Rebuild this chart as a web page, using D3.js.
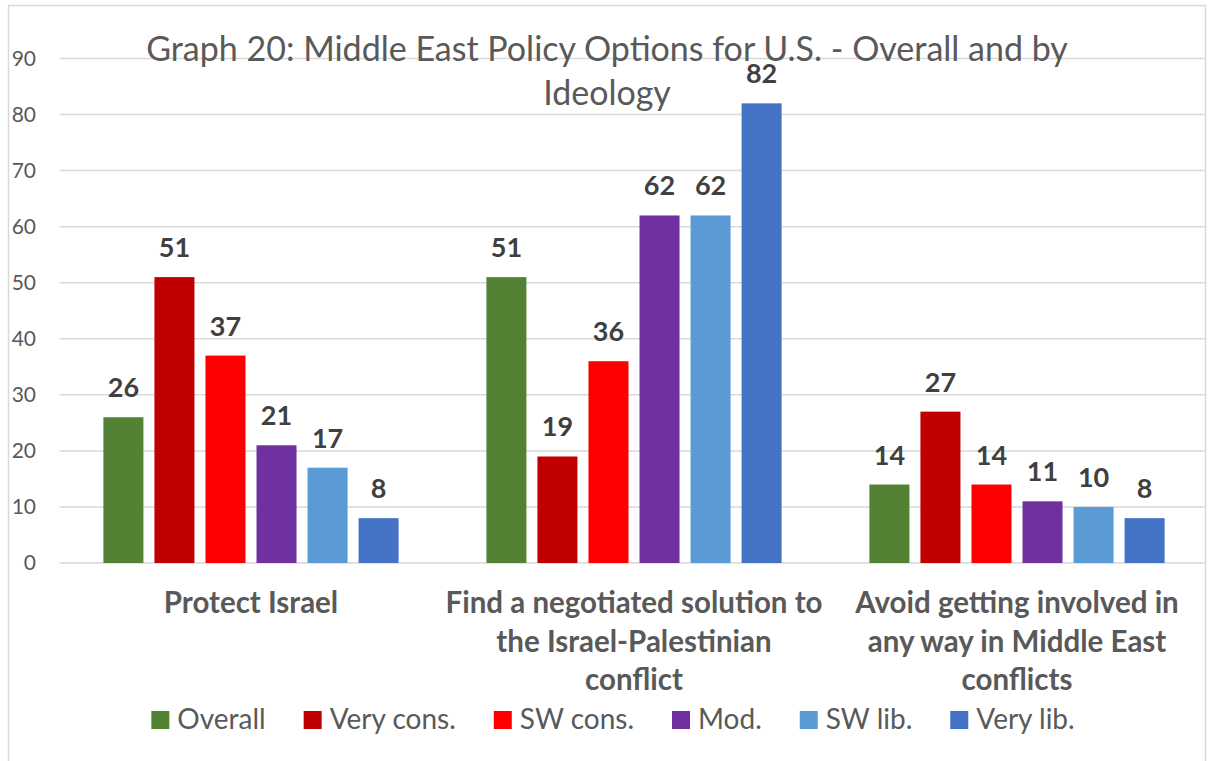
<!DOCTYPE html>
<html>
<head>
<meta charset="utf-8">
<script src="https://cdn.jsdelivr.net/npm/d3@7"></script>
<style>
  body { margin: 0; background: #fff; }
  svg { display: block; font-family: Lato, "Open Sans", sans-serif; }
</style>
</head>
<body>
<div id="chart"></div>
<script>
/* data */
const categories = [
    ["Protect Israel"],
    ["Find a negotiated solution to", "the Israel-Palestinian", "conflict"],
    ["Avoid getting involved in", "any way in Middle East", "conflicts"]
];
const seriesNames = ["Overall", "Very cons.", "SW cons.", "Mod.", "SW lib.", "Very lib."];
const seriesColors = ["#548235", "#c00000", "#ff0000", "#7030a0", "#5b9bd5", "#4472c4"];
const overall   = [26, 51, 14];
const veryCons  = [51, 19, 27];
const swCons    = [37, 36, 14];
const moderate  = [21, 62, 11];
const swLib     = [17, 62, 10];
const veryLib   = [8, 82, 8];
const yTicks = [0, 10, 20, 30, 40, 50, 60, 70, 80, 90];
const titleLines = ["Graph 20: Middle East Policy Options for U.S. - Overall and by", "Ideology"];

const seriesValues = [overall, veryCons, swCons, moderate, swLib, veryLib];

/* visual settings */
const width = 1210, height = 761;
const plot = { left: 59.5, right: 1208.5, top: 58.5, bottom: 563 };
const textGray = "#595959", labelGray = "#404040", gridGray = "#d9d9d9";

const svg = d3.select("#chart").append("svg")
    .attr("width", width)
    .attr("height", height);

/* chart area border (bottom is cut off in the reference) */
svg.append("rect")
    .attr("x", 8.5).attr("y", 5.5)
    .attr("width", 1197).attr("height", 800)
    .attr("fill", "none")
    .attr("stroke", gridGray)
    .attr("stroke-width", 1.5);

/* scales */
const x0 = d3.scaleBand()
    .domain(d3.range(categories.length))
    .range([plot.left, plot.right])
    .padding(0);
const x1 = d3.scaleBand()
    .domain(d3.range(seriesNames.length))
    .range([0, x0.bandwidth()])
    .paddingInner(0.216)
    .paddingOuter(0.86);
const y = d3.scaleLinear()
    .domain([0, 90])
    .range([plot.bottom, plot.top]);

/* gridlines */
svg.append("g").selectAll("line").data(yTicks).enter()
    .append("line")
    .attr("x1", plot.left).attr("x2", 1206)
    .attr("y1", d => y(d)).attr("y2", d => y(d))
    .attr("stroke", gridGray)
    .attr("stroke-width", 1.5);

/* y axis labels */
const yAxis = d3.axisLeft(y).tickValues(yTicks).tickSize(0).tickPadding(0);
const yAxisG = svg.append("g")
    .attr("transform", "translate(36,0)")
    .call(yAxis);
yAxisG.select(".domain").remove();
yAxisG.selectAll("text")
    .attr("fill", textGray)
    .style("font-family", "Lato, sans-serif")
    .style("font-size", "21px");

/* title */
svg.append("text")
    .attr("x", 607).attr("y", 61)
    .attr("text-anchor", "middle")
    .attr("fill", textGray)
    .style("font-size", "34px")
    .selectAll("tspan").data(titleLines).enter()
    .append("tspan")
    .attr("x", 607)
    .attr("dy", (d, i) => i === 0 ? 0 : 44)
    .text(d => d);

/* bars */
const groups = svg.append("g").selectAll("g").data(categories).enter()
    .append("g")
    .attr("transform", (d, i) => "translate(" + x0(i) + ",0)");

const cells = groups.selectAll("g.bar")
    .data((d, ci) => seriesValues.map((vals, si) => ({ si: si, value: vals[ci] })))
    .enter().append("g").attr("class", "bar");

cells.append("rect")
    .attr("x", d => x1(d.si))
    .attr("width", x1.bandwidth())
    .attr("y", d => y(d.value))
    .attr("height", d => y(0) - y(d.value))
    .attr("fill", d => seriesColors[d.si]);

/* data labels */
cells.append("text")
    .attr("x", d => x1(d.si) + x1.bandwidth() / 2)
    .attr("y", d => y(d.value) - 20)
    .attr("text-anchor", "middle")
    .attr("fill", labelGray)
    .style("font-size", "27px")
    .style("font-weight", "bold")
    .text(d => d.value);

/* category labels */
svg.append("g").selectAll("text").data(categories).enter()
    .append("text")
    .attr("text-anchor", "middle")
    .attr("fill", textGray)
    .style("font-size", "29.5px")
    .style("font-weight", "bold")
    .each(function (lines, i) {
        d3.select(this).selectAll("tspan").data(lines).enter()
            .append("tspan")
            .attr("x", x0(i) + x0.bandwidth() / 2)
            .attr("y", (d, j) => 613 + j * 38.5)
            .text(d => d);
    });

/* legend */
const legend = svg.append("g");
const items = legend.selectAll("g").data(seriesNames).enter().append("g");
items.append("rect")
    .attr("width", 18).attr("height", 18)
    .attr("y", 711)
    .attr("fill", (d, i) => seriesColors[i]);
items.append("text")
    .attr("x", 26)
    .attr("y", 729)
    .attr("fill", textGray)
    .style("font-size", "28px")
    .text(d => d);
let offset = 0;
items.each(function () {
    const w = d3.select(this).select("text").node().getComputedTextLength();
    d3.select(this).attr("transform", "translate(" + offset + ",0)");
    offset += 26 + w + 38;
});
const legendWidth = offset - 38;
legend.attr("transform", "translate(" + (613 - legendWidth / 2) + ",0)");
</script>
</body>
</html>
